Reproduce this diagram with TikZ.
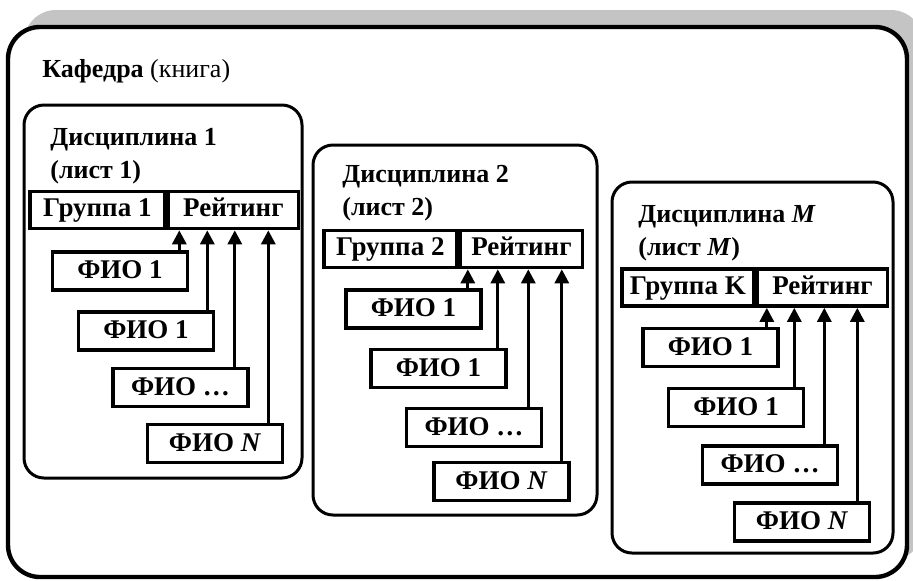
\documentclass[tikz,border=0pt]{standalone}
\usepackage{fontspec}
\setmainfont{Liberation Serif}
\usetikzlibrary{arrows.meta}
\usetikzlibrary{shadows}
\definecolor{shadowgray}{HTML}{C4C4C4}

\begin{document}
\fontsize{13}{16.5}\selectfont
\begin{tikzpicture}[x=0.5pt,y=-0.5pt,
		sheet/.style={draw,line width=1.5pt,rounded corners=10pt,inner sep=0pt},
		title/.style={anchor=base west,align=left,inner sep=0pt,font=\bfseries},
		cell/.style={draw,fill=white,line width=1.8pt,anchor=west,minimum height=18.5pt,inner sep=0pt,
			text height=9.5pt,text depth=3pt,font=\fontsize{13.5}{16}\selectfont\bfseries},
		leaf/.style={draw,fill=white,line width=1.8pt,minimum width=67.5pt,minimum height=19pt,inner sep=0pt,
			text height=9.5pt,text depth=2pt,font=\fontsize{13.5}{16}\selectfont\bfseries},
		link/.style={line width=1.5pt,-{Triangle[width=7pt,length=7pt]}}]
	\useasboundingbox (0,0) rectangle (913,580);
	\node[draw,fill=white,line width=2.2pt,rounded corners=16pt,minimum width=449.5pt,minimum height=275pt,
		drop shadow={shadow xshift=8pt,shadow yshift=8.5pt,fill=shadowgray,opacity=1}] (kaf) at (457.5,302) {};
	\node[title] (kt) at (42,77) {Кафедра {\mdseries (книга)}};

	\node[sheet,minimum width=139pt,minimum height=186.5pt] (d1) at (163,291.5) {};
	\node[title] (t1) at (50,178) {Дисциплина 1\\(лист 1)};
	\node[cell,minimum width=67.5pt] (g1) at (28,210) {Группа 1};
	\node[cell,minimum width=65pt] (r1) at (g1.east) {Рейтинг};
	\node[leaf] (f11) at (120,271) {ФИО 1};
	\node[leaf] (f12) at (146,331) {ФИО 1};
	\node[leaf] (f13) at (180.5,387.5) {ФИО …};
	\node[leaf] (f14) at (215,443.5) {ФИО \textit{N}};
	\draw[link] ([xshift=-5pt]f11.north east) -- ([xshift=-5pt]f11.north east |- r1.south);
	\draw[link] ([xshift=-4pt]f12.north east) -- ([xshift=-4pt]f12.north east |- r1.south);
	\draw[link] ([xshift=-7.5pt]f13.north east) -- ([xshift=-7.5pt]f13.north east |- r1.south);
	\draw[link] ([xshift=-8pt]f14.north east) -- ([xshift=-8pt]f14.north east |- r1.south);

	\node[sheet,minimum width=142pt,minimum height=185pt] (d2) at (455,330) {};
	\node[title] (t2) at (342,215) {Дисциплина 2\\(лист 2)};
	\node[cell,minimum width=66.5pt] (g2) at (322,249) {Группа 2};
	\node[cell,minimum width=61pt] (r2) at (g2.east) {Рейтинг};
	\node[leaf] (f21) at (413.5,309) {ФИО 1};
	\node[leaf] (f22) at (438.5,368.5) {ФИО 1};
	\node[leaf] (f23) at (474,427.5) {ФИО …};
	\node[leaf] (f24) at (501.5,481.5) {ФИО \textit{N}};
	\draw[link] ([xshift=-7.5pt]f21.north east) -- ([xshift=-7.5pt]f21.north east |- r2.south);
	\draw[link] ([xshift=-5pt]f22.north east) -- ([xshift=-5pt]f22.north east |- r2.south);
	\draw[link] ([xshift=-7.5pt]f23.north east) -- ([xshift=-7.5pt]f23.north east |- r2.south);
	\draw[link] ([xshift=-4.5pt]f24.north east) -- ([xshift=-4.5pt]f24.north east |- r2.south);

	\node[sheet,minimum width=140.5pt,minimum height=185.5pt] (d3) at (752.5,367.5) {};
	\node[title] (t3) at (638,255) {Дисциплина \textit{M}\\(лист \textit{M})};
	\node[cell,minimum width=66pt] (g3) at (620,287.5) {Группа K};
	\node[cell,minimum width=65pt] (r3) at (g3.east) {Рейтинг};
	\node[leaf] (f31) at (710.5,347.5) {ФИО 1};
	\node[leaf] (f32) at (736,407.5) {ФИО 1};
	\node[leaf] (f33) at (770,465) {ФИО …};
	\node[leaf] (f34) at (802,522) {ФИО \textit{N}};
	\draw[link] ([xshift=-6.5pt]f31.north east) -- ([xshift=-6.5pt]f31.north east |- r3.south);
	\draw[link] ([xshift=-5.5pt]f32.north east) -- ([xshift=-5.5pt]f32.north east |- r3.south);
	\draw[link] ([xshift=-7.5pt]f33.north east) -- ([xshift=-7.5pt]f33.north east |- r3.south);
	\draw[link] ([xshift=-7pt]f34.north east) -- ([xshift=-7pt]f34.north east |- r3.south);
\end{tikzpicture}
\end{document}
